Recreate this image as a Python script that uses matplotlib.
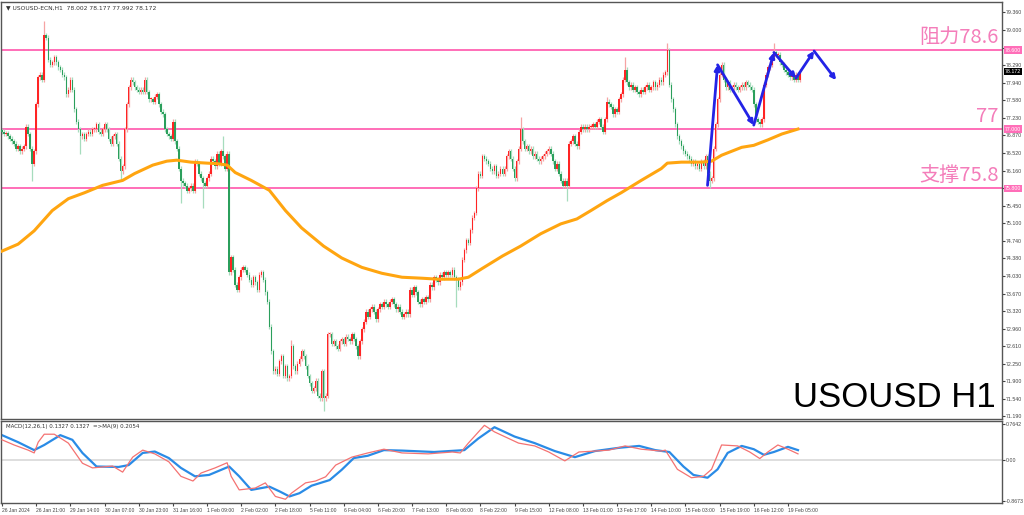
import matplotlib
matplotlib.use('Agg')
import matplotlib.pyplot as plt
import matplotlib.transforms as mtransforms
import numpy as np

plt.rcParams['font.family'] = ['DejaVu Sans']

# Schlusskurse je H1-Kerze, Eröffnung = voriger Schluss
closes = [
    76.95, 76.9, 76.92, 76.85, 76.8, 76.75, 76.7, 76.6, 76.65, 76.55, 76.6,
    76.65, 77.05, 76.9, 76.6, 76.3, 76.55, 77.5, 78.05, 78.1, 78.0,
    78.9, 78.85, 78.4, 78.3, 78.35, 78.45, 78.35, 78.25, 78.2, 78.1,
    78.05, 77.7, 77.8, 78.0, 77.8, 77.4, 77.15, 77.0, 76.85, 76.9,
    76.8, 76.9, 76.95, 76.9, 77.0, 77.0, 77.1, 76.95, 76.9, 77.0,
    77.1, 77.0, 76.8, 76.7, 76.85, 76.9, 76.7, 76.4, 76.15, 76.25,
    77.0, 77.5, 77.85, 78.0, 77.95, 77.85, 77.8, 77.75, 77.8, 77.75,
    78.0, 77.75, 77.6, 77.6, 77.55, 77.65, 77.7, 77.5, 77.35, 77.3,
    77.0, 76.9, 76.85, 76.8, 77.15, 76.75, 76.6, 76.2, 75.95, 75.9,
    75.85, 75.75, 75.8, 75.85, 75.75, 76.35, 76.3, 76.1, 76.0, 75.9,
    75.85, 76.0, 76.1, 76.4, 76.35, 76.25, 76.5, 76.3, 76.55, 76.45,
    76.2, 76.5, 74.1, 74.4, 74.15, 73.85, 73.75, 74.0, 74.15, 74.2,
    74.15, 74.05, 73.95, 73.85, 74.0, 73.9, 73.75, 74.05, 74.1, 73.95,
    73.7, 73.5, 73.0, 72.5, 72.1, 72.15, 72.05, 72.3, 72.4, 72.0,
    72.2, 71.95, 72.0, 72.6, 72.2, 72.1, 72.25, 72.35, 72.5, 72.4,
    72.2, 72.0, 71.85, 71.7, 71.75, 71.9, 71.6, 71.55, 72.1, 71.55,
    71.6, 72.85, 72.85, 72.65, 72.7, 72.6, 72.55, 72.7, 72.75, 72.65,
    72.8, 72.75, 72.7, 72.85, 72.75, 72.6, 72.4, 72.7, 72.95, 73.1,
    73.3, 73.2, 73.35, 73.4, 73.3, 73.15, 73.35, 73.45, 73.4, 73.5,
    73.45, 73.4, 73.5, 73.55, 73.45, 73.35, 73.4, 73.3, 73.2, 73.25,
    73.3, 73.25, 73.75, 73.65, 73.8, 73.7, 73.5, 73.45, 73.55, 73.5,
    73.6, 73.55, 73.85, 73.8, 74.0, 73.95, 73.9, 74.05, 74.0, 74.1,
    74.05, 74.1, 74.05, 74.15, 74.0, 73.95, 73.8, 73.9, 74.35, 74.55,
    74.75, 74.7, 74.95, 75.2, 75.3, 75.8, 76.1, 76.05, 76.45, 76.4,
    76.35, 76.3, 76.2, 76.15, 76.25, 76.05, 76.1, 76.2, 76.1, 76.2,
    76.45, 76.55, 76.4, 76.2, 76.0, 76.35, 76.6, 77.0, 76.75, 76.6,
    76.65, 76.55, 76.6, 76.45, 76.5, 76.4, 76.35, 76.4, 76.45, 76.5,
    76.55, 76.6, 76.5, 76.35, 76.2, 76.3, 76.1, 75.95, 75.85, 75.95,
    75.85, 76.7, 76.75, 76.85, 76.7, 76.65, 76.95, 77.05, 77.0, 77.05,
    77.0, 77.05, 77.05, 77.1, 77.05, 77.15, 77.2, 77.05, 76.95, 77.2,
    77.55, 77.5, 77.45, 77.3, 77.4, 77.35, 77.6, 77.7, 78.0, 78.2,
    77.95, 77.85, 77.9, 77.8, 77.85, 77.75, 77.7, 77.8, 77.75, 77.85,
    77.9, 77.8, 77.85, 77.95, 77.85, 77.9, 78.0, 77.95, 78.1, 78.15,
    78.6, 77.9, 77.6, 77.4, 77.1, 76.85, 76.75, 76.65, 76.55, 76.5,
    76.45, 76.4, 76.3, 76.35, 76.25, 76.3, 76.2, 76.35, 76.25, 76.45,
    76.1, 75.95, 76.0, 76.6, 77.1, 77.6, 78.1, 78.3, 78.0, 77.85,
    77.95, 77.8, 77.85, 77.9, 77.85, 77.8, 77.85, 77.9, 77.85, 77.95,
    77.9, 77.85, 77.8, 77.5, 77.2, 77.15, 77.1, 77.2, 77.9, 78.1,
    78.25, 78.3, 78.45, 78.55, 78.5, 78.5, 78.35, 78.3, 78.2, 78.15,
    78.1, 78.05, 78.1, 78.0, 78.1, 78.002, 78.172,
]
first_open = 76.98
spike_highs = {21: 79.18, 110: 76.85, 144: 72.72, 258: 77.25, 301: 77.65,
               310: 78.45, 331: 78.75, 384: 78.75}
spike_lows = {15: 75.95, 39: 76.5, 59: 75.95, 89: 75.5, 100: 75.4, 160: 71.3,
              226: 73.4, 281: 75.55, 352: 75.8}

# Gleitender Durchschnitt (orange)
ma_bars = [0, 8, 16, 25, 33, 41, 50, 60, 66, 75, 82, 87, 94, 102, 107, 112, 116,
           124, 133, 141, 149, 160, 169, 179, 189, 199, 209, 217, 227, 232, 239,
           249, 258, 268, 278, 286, 293, 301, 308, 318, 328, 331, 338, 348, 353,
           358, 368, 374, 381, 388, 396]
ma_vals = [74.53, 74.67, 74.94, 75.35, 75.59, 75.71, 75.86, 75.96, 76.10, 76.27,
           76.35, 76.37, 76.33, 76.31, 76.30, 76.27, 76.12, 75.96, 75.76, 75.35,
           75.0, 74.63, 74.39, 74.2, 74.08, 74.0, 73.98, 73.96, 73.96, 74.0, 74.18,
           74.43, 74.63, 74.88, 75.08, 75.18, 75.35, 75.55, 75.71, 75.96, 76.2,
           76.31, 76.33, 76.33, 76.35, 76.47, 76.63, 76.67, 76.78, 76.9, 77.0]

# MACD-Linien
macd_bars = [0, 6, 13, 16, 18, 21, 26, 33, 40, 45, 50, 55, 60, 65, 70, 76, 83, 89,
             95, 99, 106, 112, 114, 118, 126, 131, 136, 141, 144, 151, 156, 161,
             166, 174, 182, 190, 199, 212, 224, 228, 232, 240, 245, 252, 257, 265,
             272, 280, 287, 295, 302, 310, 318, 328, 330, 336, 343, 349, 353, 358,
             366, 372, 377, 381, 386, 391, 396]
macd_vals = [0.43, 0.32, 0.21, 0.15, 0.38, 0.55, 0.55, 0.36, -0.07, -0.17, -0.15,
             -0.13, -0.26, 0.06, 0.21, 0.13, -0.04, -0.35, -0.45, -0.28, -0.17,
             -0.06, -0.35, -0.64, -0.60, -0.49, -0.78, -0.84, -0.71, -0.49, -0.45,
             -0.36, -0.11, 0.06, 0.15, 0.23, 0.15, 0.13, 0.17, 0.15, 0.36, 0.74,
             0.60, 0.46, 0.36, 0.30, 0.17, -0.02, 0.17, 0.19, 0.21, 0.30, 0.23,
             0.19, 0.21, -0.20, -0.38, -0.35, -0.20, 0.32, 0.30, 0.17, 0.03, 0.17,
             0.32, 0.23, 0.13]
signal_bars = [0, 8, 16, 21, 29, 35, 40, 47, 58, 63, 70, 76, 83, 89, 96, 103, 113,
               118, 124, 133, 138, 143, 148, 154, 163, 169, 175, 182, 190, 199, 215,
               230, 237, 245, 255, 265, 275, 285, 295, 307, 317, 325, 332, 339, 344,
               351, 356, 361, 368, 374, 379, 384, 391, 396]
signal_vals = [0.53, 0.38, 0.21, 0.32, 0.53, 0.43, 0.15, -0.14, -0.15, -0.11, 0.15,
               0.18, 0.04, -0.17, -0.35, -0.32, -0.14, -0.35, -0.64, -0.57, -0.67,
               -0.78, -0.71, -0.55, -0.43, -0.21, 0.04, 0.09, 0.21, 0.20, 0.17, 0.21,
               0.46, 0.70, 0.50, 0.36, 0.19, 0.06, 0.19, 0.26, 0.30, 0.21, 0.17,
               -0.14, -0.32, -0.38, -0.20, 0.15, 0.30, 0.23, 0.11, 0.17, 0.28, 0.21]

levels = [78.6, 77.0, 75.8]
level_texts = ['阻力78.6', '77', '支撑75.8']
level_tags = ['78.600', '77.000', '75.800']

# Prognosepfad (blaue Pfeile)
path_bars = [351, 356, 374, 384, 395, 404, 415]
path_prices = [75.86, 78.3, 77.08, 78.55, 78.03, 78.58, 77.99]

price_ticks = [79.36, 79.0, 78.64, 78.29, 77.94, 77.58, 77.23, 76.87, 76.52, 76.16,
               75.8, 75.45, 75.1, 74.74, 74.38, 74.03, 73.67, 73.32, 72.96, 72.61,
               72.25, 71.9, 71.54, 71.19]
date_labels = ['26 Jan 2024', '26 Jan 21:00', '29 Jan 14:00', '30 Jan 07:00',
               '30 Jan 23:00', '31 Jan 16:00', '1 Feb 09:00', '2 Feb 02:00',
               '2 Feb 18:00', '5 Feb 11:00', '6 Feb 04:00', '6 Feb 20:00',
               '7 Feb 13:00', '8 Feb 06:00', '8 Feb 22:00', '9 Feb 15:00',
               '12 Feb 08:00', '13 Feb 01:00', '13 Feb 17:00', '14 Feb 10:00',
               '15 Feb 03:00', '15 Feb 19:00', '16 Feb 12:00', '19 Feb 05:00']
date_bars = [17 * k for k in range(len(date_labels))]

small = 'Liberation Sans'

fig = plt.figure(figsize=(10.24, 5.15), dpi=100)
ax = fig.add_axes([0.001, 0.1864, 0.9775, 0.81])
ax2 = fig.add_axes([0.001, 0.0233, 0.9775, 0.159])

# Kerzen
c = np.array(closes)
o = np.concatenate([[first_open], c[:-1]])
x = np.arange(len(c))
hi = np.maximum(o, c) + 0.05
lo = np.minimum(o, c) - 0.05
for k, v in spike_highs.items():
    hi[k] = v
for k, v in spike_lows.items():
    lo[k] = v
up = c >= o
ax.vlines(x[up], lo[up], hi[up], color='#F6A3A3', lw=0.9, zorder=2)
ax.vlines(x[~up], lo[~up], hi[~up], color='#A6DCBD', lw=0.9, zorder=2)
body_h = np.maximum(np.abs(c - o), 0.02)
ax.bar(x[up], body_h[up], bottom=np.minimum(o, c)[up], width=0.75,
       color='#FF2424', linewidth=0, zorder=3)
ax.bar(x[~up], body_h[~up], bottom=np.minimum(o, c)[~up], width=0.75,
       color='#2B9F5C', linewidth=0, zorder=3)

ax.plot(ma_bars, ma_vals, color='#FFA510', lw=2.2, zorder=4,
        solid_joinstyle='round')

trans = mtransforms.blended_transform_factory(ax.transAxes, ax.transData)
for lv, txt, tag in zip(levels, level_texts, level_tags):
    ax.axhline(lv, color='#FF6EB8', lw=1.4, zorder=1)
    ax.text(0.997, lv + 0.05, txt, transform=trans, ha='right', va='bottom',
            fontsize=14.5, color='#F47DBA',
            family=['Noto Sans CJK SC', 'DejaVu Sans'])
    ax.text(1.003, lv, tag, transform=trans, ha='left', va='center',
            fontsize=3.8, color='white', clip_on=False, family=small,
            bbox=dict(boxstyle='square,pad=0.2', fc='#FF6EB8', ec='none'))
ax.text(1.003, closes[-1], '78.172', transform=trans, ha='left', va='center',
        fontsize=3.8, color='white', clip_on=False, family=small,
        bbox=dict(boxstyle='square,pad=0.2', fc='black', ec='none'))

for i in range(len(path_bars) - 1):
    ax.annotate('', xy=(path_bars[i + 1], path_prices[i + 1]),
                xytext=(path_bars[i], path_prices[i]),
                arrowprops=dict(arrowstyle='-|>', color='#2323E6', lw=2,
                                mutation_scale=7, shrinkA=0, shrinkB=0),
                zorder=6)

ax.text(0.005, 0.992, '\u25BC USOUSD-ECN,H1  78.002 78.177 77.992 78.172',
        transform=ax.transAxes, ha='left', va='top', fontsize=4.3, color='#333333')
ax.text(0.994, 0.012, 'USOUSD H1', transform=ax.transAxes, ha='right',
        va='bottom', fontsize=25, color='black', family='Liberation Sans')

ax.set_xlim(-0.5, 497.5)
ax.set_ylim(71.13, 79.575)
ax.yaxis.tick_right()
ax.set_yticks(price_ticks)
ax.set_yticklabels([f'{v:.3f}' for v in price_ticks], family=small)
ax.tick_params(axis='y', labelsize=3.8, length=2, pad=1, colors='#444444')
ax.set_xticks([])

# MACD Panel
ax2.axhline(0, color='#D8D8D8', lw=1.2, zorder=1)
ax2.plot(macd_bars, macd_vals, color='#F47272', lw=0.9, zorder=3)
ax2.plot(signal_bars, signal_vals, color='#2A8BE6', lw=1.6, zorder=2,
         solid_joinstyle='round')
ax2.text(0.005, 0.97, 'MACD(12,26,1) 0.1327 0.1327  =>MA(9) 0.2054',
         transform=ax2.transAxes, ha='left', va='top', fontsize=4.0, color='#333333')
ax2.set_xlim(-0.5, 497.5)
ax2.set_ylim(-0.92, 0.83)
ax2.yaxis.tick_right()
ax2.set_yticks([0.7642, 0.0, -0.8673])
ax2.set_yticklabels(['0.7642', '0.00', '-0.8673'], family=small)
ax2.tick_params(axis='y', labelsize=3.8, length=2, pad=1, colors='#444444')
ax2.set_xticks(date_bars)
ax2.set_xticklabels(date_labels, ha='left', family=small)
ax2.tick_params(axis='x', labelsize=3.6, length=2, pad=1.5, colors='#444444')

for a in (ax, ax2):
    for s in a.spines.values():
        s.set_color('#555555')
        s.set_linewidth(1.0)

fig.savefig('out.png', dpi=100, facecolor='white')
plt.close()
